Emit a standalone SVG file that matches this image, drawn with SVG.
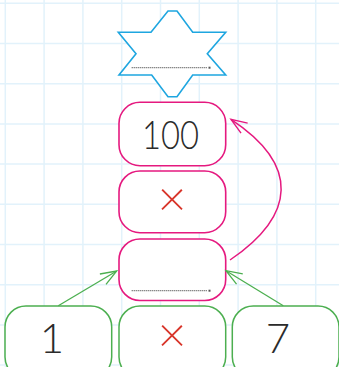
<svg xmlns="http://www.w3.org/2000/svg" width="339" height="367" viewBox="0 0 339 367">
<defs>
<style>
.grid line{stroke:#e2f2fb;stroke-width:1.5}
.pink{fill:#fff;stroke:#e5197f;stroke-width:1.6}
.green{fill:#fff;stroke:#4caf50;stroke-width:1.5}
.num{font-family:Lato,"Noto Sans","Liberation Sans",sans-serif;font-weight:300;fill:#2b2b2b;text-anchor:middle}
.times{font-family:Lato,"Noto Sans","Liberation Sans",sans-serif;font-weight:300;fill:#d8352a;text-anchor:middle}
.dots{stroke:#555;stroke-width:1.3;stroke-dasharray:1 1;fill:none}
</style>
<marker id="ag" viewBox="-18 -8 20 16" markerWidth="20" markerHeight="16" refX="0" refY="0" orient="auto" markerUnits="userSpaceOnUse">
<path d="M-16,-6 L0,0 L-16,6" fill="none" stroke="#4caf50" stroke-width="1.3"/>
</marker>
<marker id="ap" viewBox="-18 -8 20 16" markerWidth="20" markerHeight="16" refX="0" refY="0" orient="auto" markerUnits="userSpaceOnUse">
<path d="M-16,-6 L0,0 L-16,6" fill="none" stroke="#e5197f" stroke-width="1.4"/>
</marker>
</defs>
<rect width="339" height="367" fill="#fff"/>
<g class="grid">
<line x1="5.3" y1="0" x2="5.3" y2="367"/>
<line x1="44.1" y1="0" x2="44.1" y2="367"/>
<line x1="82.9" y1="0" x2="82.9" y2="367"/>
<line x1="121.7" y1="0" x2="121.7" y2="367"/>
<line x1="160.5" y1="0" x2="160.5" y2="367"/>
<line x1="199.3" y1="0" x2="199.3" y2="367"/>
<line x1="238.1" y1="0" x2="238.1" y2="367"/>
<line x1="276.9" y1="0" x2="276.9" y2="367"/>
<line x1="315.7" y1="0" x2="315.7" y2="367"/>
<line x1="0" y1="3.3" x2="339" y2="3.3"/>
<line x1="0" y1="43.5" x2="339" y2="43.5"/>
<line x1="0" y1="83.7" x2="339" y2="83.7"/>
<line x1="0" y1="123.9" x2="339" y2="123.9"/>
<line x1="0" y1="164.1" x2="339" y2="164.1"/>
<line x1="0" y1="204.3" x2="339" y2="204.3"/>
<line x1="0" y1="244.5" x2="339" y2="244.5"/>
<line x1="0" y1="284.7" x2="339" y2="284.7"/>
<line x1="0" y1="324.9" x2="339" y2="324.9"/>
<line x1="0" y1="365.1" x2="339" y2="365.1"/>
</g>
<g id="star">
<polygon points="168,11 177,11 192.7,32.3 225.7,32.3 207.3,53.7 225.7,75 192.7,75 177,96.7 168,96.7 151.7,75 119,75 136,53.7 118.3,32.3 151,32.3" fill="#fff" stroke="#1ea6e0" stroke-width="1.6" stroke-linejoin="miter"/>
<line class="dots" x1="131.7" y1="67.7" x2="207.5" y2="67.7"/>
<rect x="208.5" y="66.7" width="2" height="2" fill="#555"/>
</g>
<g id="box100">
<rect class="pink" x="119" y="102.3" width="106.7" height="63.4" rx="21" ry="21"/>
<text class="num" x="170.5" y="149" font-size="40" textLength="57" lengthAdjust="spacingAndGlyphs">100</text>
</g>
<g id="boxTimes">
<rect class="pink" x="119" y="171" width="106.7" height="61.7" rx="21" ry="21"/>
<text class="times" x="172" y="216" font-size="50">×</text>
</g>
<g id="boxResult">
<rect class="pink" x="119" y="239" width="106.7" height="61.5" rx="21" ry="21"/>
<line class="dots" x1="131.7" y1="290.7" x2="207.5" y2="290.7"/>
<rect x="208.5" y="289.7" width="2" height="2" fill="#555"/>
</g>
<g id="box1">
<rect class="green" x="5" y="306" width="106.7" height="72" rx="21" ry="21"/>
<text class="num" x="52" y="353" font-size="42">1</text>
</g>
<g id="boxTimes2">
<rect class="green" x="119" y="306" width="106.7" height="72" rx="21" ry="21"/>
<text class="times" x="172" y="352" font-size="50">×</text>
</g>
<g id="box7">
<rect class="green" x="232.3" y="306" width="106.7" height="72" rx="21" ry="21"/>
<text class="num" x="278" y="353" font-size="42">7</text>
</g>
<g id="connectors" fill="none">
<line x1="58.3" y1="305.7" x2="116.7" y2="271" stroke="#4caf50" stroke-width="1.3" marker-end="url(#ag)"/>
<line x1="283.3" y1="305.7" x2="226" y2="270.7" stroke="#4caf50" stroke-width="1.3" marker-end="url(#ag)"/>
<path d="M230,260 C296,215 300,165 231,119.3" stroke="#e5197f" stroke-width="1.5" marker-end="url(#ap)"/>
</g>
</svg>
